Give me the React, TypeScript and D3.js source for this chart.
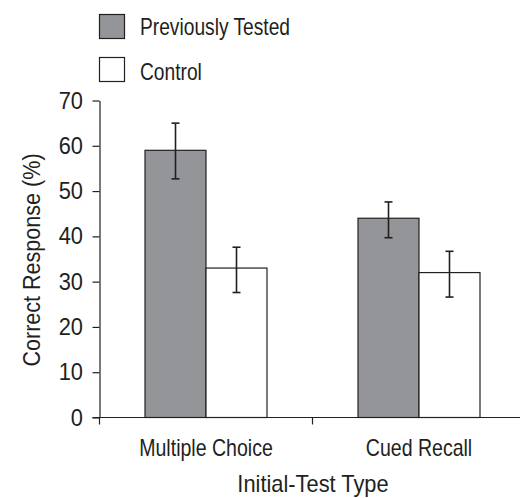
import React, { useRef, useEffect } from "react";
import * as d3 from "d3";

// Data
const categories = ["Multiple Choice", "Cued Recall"];
const series = ["Previously Tested", "Control"];
const previouslyTested = [59, 44];
const control = [33, 32];
const previouslyTestedLow = [52.7, 39.7];
const previouslyTestedHigh = [65, 47.6];
const controlLow = [27.6, 26.6];
const controlHigh = [37.6, 36.7];
const yTicks = [0, 10, 20, 30, 40, 50, 60, 70];

// condensed look: Liberation Sans squeezed horizontally
const FONT = "'Liberation Sans', Arial, sans-serif";
const INK = "#231f20";
const GRAY = "#939598";

type Sel = d3.Selection<any, unknown, null, undefined>;

function addText(g: Sel, x: number, y: number, str: string, size: number, sx: number, anchor = "start", rotate = 0) {
  g.append("text")
    .attr("transform", `translate(${x},${y}) rotate(${rotate}) scale(${sx},1)`)
    .attr("text-anchor", anchor)
    .attr("font-family", FONT)
    .attr("font-size", size)
    .attr("fill", INK)
    .text(str);
}

export default function App() {
  const svgRef = useRef<SVGSVGElement>(null);

  useEffect(() => {
    const width = 527;
    const height = 498;
    const left = 99.5;
    const bottom = 417.5;
    const top = 100.5;

    const svg = d3.select(svgRef.current);
    svg.selectAll("*").remove();
    svg.attr("width", width).attr("height", height);

    const x = d3.scaleBand<string>().domain(categories).range([left, 525.5]).paddingInner(0).paddingOuter(0);
    const xInner = d3.scaleBand<string>().domain(series).range([0, x.bandwidth()]).paddingInner(0).paddingOuter(0.746);
    const y = d3.scaleLinear().domain([0, 70]).range([bottom, top]);

    const rows = categories.map((c, i) => [
      { cat: c, s: series[0], v: previouslyTested[i], lo: previouslyTestedLow[i], hi: previouslyTestedHigh[i], fill: GRAY },
      { cat: c, s: series[1], v: control[i], lo: controlLow[i], hi: controlHigh[i], fill: "#ffffff" },
    ]).flat();

    // Bars
    svg.append("g")
      .selectAll("rect")
      .data(rows)
      .enter()
      .append("rect")
      .attr("x", (d) => (x(d.cat) as number) + (xInner(d.s) as number))
      .attr("y", (d) => y(d.v))
      .attr("width", xInner.bandwidth())
      .attr("height", (d) => y(0) - y(d.v))
      .attr("fill", (d) => d.fill)
      .attr("stroke", INK)
      .attr("stroke-width", 1.2);

    // Error bars
    const eb = svg.append("g").attr("stroke", INK).attr("stroke-width", 1.6);
    rows.forEach((d) => {
      const cx = (x(d.cat) as number) + (xInner(d.s) as number) + xInner.bandwidth() / 2;
      eb.append("line").attr("x1", cx).attr("x2", cx).attr("y1", y(d.lo)).attr("y2", y(d.hi));
      eb.append("line").attr("x1", cx - 4).attr("x2", cx + 4).attr("y1", y(d.lo)).attr("y2", y(d.lo));
      eb.append("line").attr("x1", cx - 4).attr("x2", cx + 4).attr("y1", y(d.hi)).attr("y2", y(d.hi));
    });

    // Y axis (labels drawn separately for the squeezed font)
    const yAxis = svg.append("g")
      .attr("transform", `translate(${left},0)`)
      .call(d3.axisLeft(y).tickValues(yTicks).tickSize(7).tickSizeOuter(0).tickFormat(() => ""));
    yAxis.selectAll("path, line").attr("stroke", INK).attr("stroke-width", 1.2);
    const yLabels = svg.append("g");
    yTicks.forEach((t) => addText(yLabels, 83, y(t) + 8, String(t), 23, 0.95, "end"));

    // X axis
    const xAxis = svg.append("g");
    xAxis.append("line")
      .attr("x1", left - 7).attr("x2", 520)
      .attr("y1", bottom).attr("y2", bottom)
      .attr("stroke", INK).attr("stroke-width", 1.2);
    xAxis.selectAll(".bound")
      .data(categories)
      .enter()
      .append("line")
      .attr("class", "bound")
      .attr("x1", (d) => x(d) as number).attr("x2", (d) => x(d) as number)
      .attr("y1", bottom).attr("y2", bottom + 7)
      .attr("stroke", INK).attr("stroke-width", 1.2);
    categories.forEach((c) => addText(xAxis, (x(c) as number) + x.bandwidth() / 2, 455.5, c, 23, 0.85, "middle"));

    // Axis titles
    addText(svg, 313, 492, "Initial-Test Type", 23, 0.95, "middle");
    addText(svg, 40, 260, "Correct Response (%)", 24.5, 0.88, "middle", -90);

    // Legend
    const legend = svg.append("g");
    series.forEach((s, i) => {
      const ly = 14.5 + i * 43;
      legend.append("rect")
        .attr("x", 99.5).attr("y", ly)
        .attr("width", 25).attr("height", 24)
        .attr("fill", i === 0 ? GRAY : "#ffffff")
        .attr("stroke", INK).attr("stroke-width", 1.2);
      addText(legend, 140, ly + 20.5 + i * 2, s, 24, 0.8);
    });
  }, []);

  return <svg ref={svgRef} style={{ position: "absolute", left: 0, top: 0 }}></svg>;
}
